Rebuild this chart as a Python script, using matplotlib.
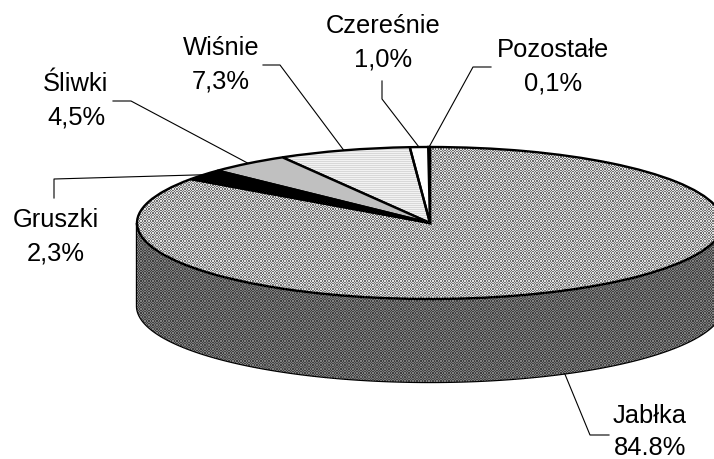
import numpy as np
import matplotlib
matplotlib.use("Agg")
import matplotlib.pyplot as plt
from matplotlib.patches import Polygon

names = ["Pozostałe", "Czereśnie", "Wiśnie", "Śliwki", "Gruszki", "Jabłka"]
shares = [0.1, 1.0, 7.3, 4.5, 2.3, 84.8]
share_labels = ["0,1%", "1,0%", "7,3%", "4,5%", "2,3%", "84.8%"]

# label centres, baselines and leader elbows, in picture pixels
label_x = [553, 383, 221, 76, 56, 650]
label_base = [57, 33, 55, 91, 227, 423]
elbow_1 = [(473, 67), (382, 99), (280, 65), (131, 101), (54, 179), (590, 435)]
elbow_2 = [(491, 67), (382, 81), (263, 65), (113, 101), (54, 198), (609, 435)]

W, H = 714, 459
CX, CY, RX, RY, DEPTH = 430, 223, 293, 76, 83


def to_data(px, py):
    return (px - CX) / RX, (CY - py) / RY


def checker(light, dark, cell=4 / 3):
    yy, xx = np.mgrid[0:H, 0:W]
    on = (np.floor(xx / cell) + np.floor(yy / cell)) % 2 == 0
    return np.where(on, light, dark)


def stripes(light, dark):
    yy, xx = np.mgrid[0:H, 0:W]
    return np.where(yy % 2 == 0, light, dark)


plt.rcParams["font.family"] = ["Liberation Sans", "DejaVu Sans"]
fig = plt.figure(figsize=(W / 100, H / 100), dpi=100)
ax = fig.add_axes([0, 0, 1, 1])

x0, y1 = to_data(0, 0)
x1, y0 = to_data(W, H)
extent = (x0, x1, y0, y1)

wedges, _ = ax.pie(
    shares,
    startangle=90,
    radius=1,
    colors=["white", "white", "#e6e6e6", "#c0c0c0", "black", "#b0b0b0"],
    wedgeprops={"edgecolor": "black", "linewidth": 1.7, "zorder": 2},
)

# side wall below the top face
t = np.linspace(np.pi, 2 * np.pi, 300)
depth = DEPTH / RY
rim_top = np.column_stack([np.cos(t), np.sin(t)])
rim_bottom = np.column_stack([np.cos(t[::-1]), np.sin(t[::-1]) - depth])
side = Polygon(np.vstack([rim_top, rim_bottom]), closed=True, facecolor="#606060",
               edgecolor="black", linewidth=1.7, zorder=1)
ax.add_patch(side)

im = ax.imshow(checker(0x80, 0x40), cmap="gray", vmin=0, vmax=255, extent=extent,
               aspect="auto", interpolation="nearest", zorder=1.5)
im.set_clip_path(side)

# dithered fills, kept under the wedge outlines
for wedge, pattern in ((wedges[5], checker(0xe0, 0x70)), (wedges[2], stripes(0xf2, 0xd8))):
    wedge.set_facecolor("none")
    im = ax.imshow(pattern, cmap="gray", vmin=0, vmax=255, extent=extent,
                   aspect="auto", interpolation="nearest", zorder=1.8)
    im.set_clip_path(wedge)

# labels and leader lines, starting from each slice's middle angle
edges = np.cumsum([0] + shares) / sum(shares)
for i, name in enumerate(names):
    mid = (edges[i] + edges[i + 1]) / 2 * 2 * np.pi
    sx, sy = -np.sin(mid), np.cos(mid)
    if sy < 0:
        sy -= depth
    ex1, ey1 = to_data(*elbow_1[i])
    ex2, ey2 = to_data(*elbow_2[i])
    ax.plot([sx, ex1, ex2], [sy, ey1, ey2], color="black", linewidth=0.8, zorder=3)
    lx, ly = to_data(label_x[i], label_base[i])
    ax.text(lx, ly, name, fontsize=18.4, ha="center", va="baseline", color="black")
    lx, ly = to_data(label_x[i], label_base[i] + 32 if i == 5 else label_base[i] + 34)
    ax.text(lx, ly, share_labels[i], fontsize=18.4, ha="center", va="baseline", color="black")

ax.set_aspect("auto")
ax.set_xlim(x0, x1)
ax.set_ylim(y0, y1)
ax.axis("off")
fig.savefig("out.png", dpi=100)
